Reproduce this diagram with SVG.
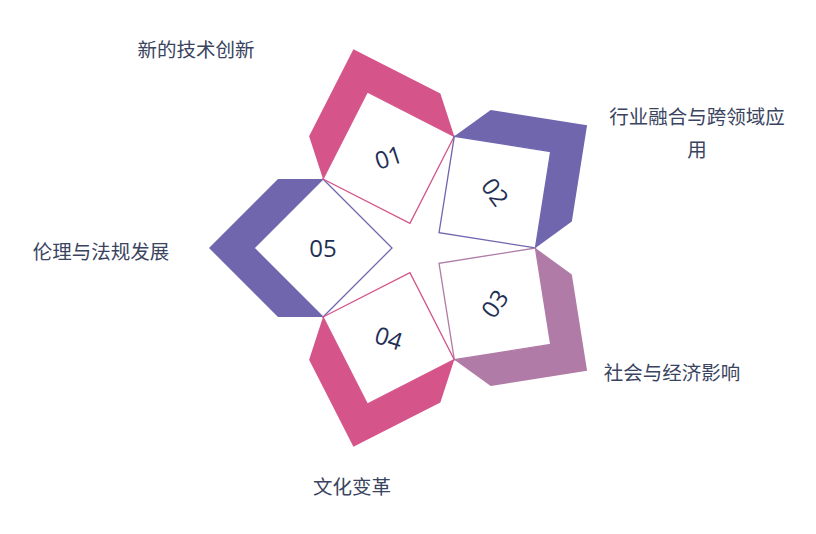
<svg xmlns="http://www.w3.org/2000/svg" width="816" height="534" viewBox="0 0 816 534">
<style>
.num{font-family:"Open Sans","Noto Sans",sans-serif;font-size:24px;fill:#1f2f55;text-anchor:middle}
.lbl{font-family:"Noto Sans CJK SC","Noto Sans",sans-serif;font-size:19.5px;fill:#3a4461;text-anchor:middle}
.dia{fill:#ffffff;stroke-width:1.3}
.pink{fill:#d5548a}
.purple{fill:#6f66ae}
.mauve{fill:#b07ba6}
</style>
<defs>
<polygon id="chev" points="323,179 278,179 209,248 278,317 323,317 254,248"/>
<polygon id="dia" points="323,179 392,248 323,317 254,248"/>
</defs>
<rect width="816" height="534" fill="#ffffff"/>
<g id="node05">
<use href="#chev" class="purple"/>
<use href="#dia" class="dia" stroke="#6f66ae"/>
<text class="num" transform="translate(323,248)" y="8.5">05</text>
<text class="lbl" x="101" y="259">伦理与法规发展</text>
</g>
<g id="node01">
<g transform="rotate(72 418 248)">
<use href="#chev" class="pink"/>
<use href="#dia" class="dia" stroke="#d5548a"/>
</g>
<text class="num" transform="translate(388.6,157.7) rotate(-18)" y="8.5">01</text>
<text class="lbl" x="196" y="57">新的技术创新</text>
</g>
<g id="node02">
<g transform="rotate(144 418 248)">
<use href="#chev" class="purple"/>
<use href="#dia" class="dia" stroke="#6f66ae"/>
</g>
<text class="num" transform="translate(494.9,192.2) rotate(54)" y="8.5">02</text>
<text class="lbl" x="697" y="124">行业融合与跨领域应</text>
<text class="lbl" x="697" y="157">用</text>
</g>
<g id="node03">
<g transform="rotate(216 418 248)">
<use href="#chev" class="mauve"/>
<use href="#dia" class="dia" stroke="#b07ba6"/>
</g>
<text class="num" transform="translate(494.9,303.8) rotate(-54)" y="8.5">03</text>
<text class="lbl" x="672" y="380">社会与经济影响</text>
</g>
<g id="node04">
<g transform="rotate(288 418 248)">
<use href="#chev" class="pink"/>
<use href="#dia" class="dia" stroke="#d5548a"/>
</g>
<text class="num" transform="translate(388.6,338.3) rotate(18)" y="8.5">04</text>
<text class="lbl" x="352" y="494">文化变革</text>
</g>
</svg>
